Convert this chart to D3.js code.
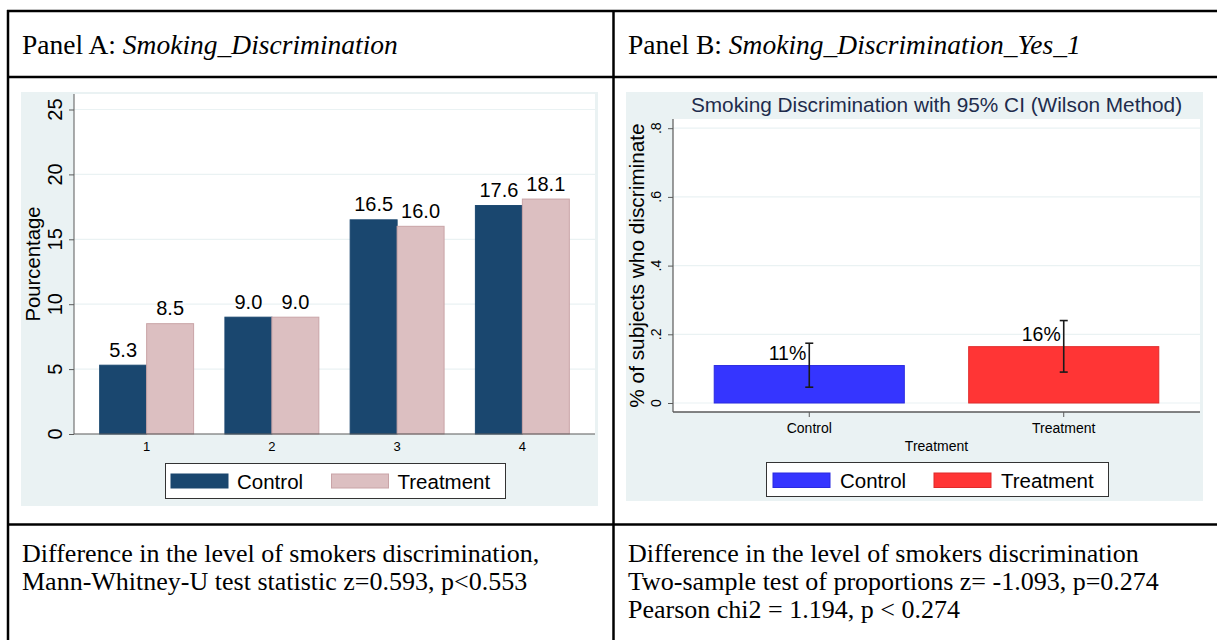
<!DOCTYPE html>
<html>
<head>
<meta charset="utf-8">
<script src="https://cdn.jsdelivr.net/npm/d3@7"></script>
<style>
  html, body { margin: 0; padding: 0; background: #ffffff; }
  svg { display: block; }
</style>
</head>
<body>
<svg id="page" width="1217" height="640"></svg>
<script>
// ---- Panel A data: discrimination level by group ----
const levels = ["1", "2", "3", "4"];
const groups = ["Control", "Treatment"];
const controlPct = [5.3, 9.0, 16.5, 17.6];
const treatmentPct = [8.5, 9.0, 16.0, 18.1];
const pctTicks = [0, 5, 10, 15, 20, 25];

// ---- Panel B data: share who discriminate, Wilson 95% CI ----
const arms = ["Control", "Treatment"];
const shareYes = [0.109, 0.164];
const ciLow = [0.046, 0.090];
const ciHigh = [0.174, 0.240];
const shareTicks = [0, 0.2, 0.4, 0.6, 0.8];

// ---- Table text ----
const headA = ["Panel A: ", "Smoking_Discrimination"];
const headB = ["Panel B: ", "Smoking_Discrimination_Yes_1"];
const noteA = ["Difference in the level of smokers discrimination,",
               "Mann-Whitney-U test statistic z=0.593, p<0.553"];
const noteB = ["Difference in the level of smokers discrimination",
               "Two-sample test of proportions z= -1.093, p=0.274",
               "Pearson chi2 = 1.194, p < 0.274"];

const svg = d3.select("#page");
const SANS = "'Liberation Sans', Arial, Helvetica, sans-serif";
const SERIF = "'Liberation Serif', 'Times New Roman', serif";
const GRAPH_BG = "#eaf2f3";
const GRID = "#eaf2f3";
const AXIS = "#5a5a5a";

// ================= table frame =================
const frame = svg.append("g").attr("stroke", "#000").attr("stroke-width", 2.5);
frame.append("line").attr("x1", 7).attr("x2", 1217).attr("y1", 11).attr("y2", 11);
frame.append("line").attr("x1", 7).attr("x2", 1217).attr("y1", 77).attr("y2", 77);
frame.append("line").attr("x1", 7).attr("x2", 1217).attr("y1", 524.5).attr("y2", 524.5);
frame.append("line").attr("x1", 8).attr("x2", 8).attr("y1", 10).attr("y2", 640);
frame.append("line").attr("x1", 613.5).attr("x2", 613.5).attr("y1", 10).attr("y2", 640);

function heading(x, parts) {
  const t = svg.append("text").attr("x", x).attr("y", 53.5)
    .attr("font-family", SERIF).attr("font-size", 27.5).attr("fill", "#000");
  t.append("tspan").text(parts[0]);
  t.append("tspan").attr("font-style", "italic").text(parts[1]);
}
heading(22, headA);
heading(628, headB);

function note(x, lines) {
  svg.append("g").selectAll("text").data(lines).join("text")
    .attr("x", x).attr("y", (d, i) => 561.5 + i * 28)
    .attr("font-family", SERIF).attr("font-size", 26).attr("fill", "#000")
    .text(d => d);
}
note(22, noteA);
note(628, noteB);

// ================= Panel A =================
{
  const g = svg.append("g");
  g.append("rect").attr("x", 21).attr("y", 92).attr("width", 577).attr("height", 414).attr("fill", GRAPH_BG);
  const L = 74, R = 595, T = 94, B = 434;
  g.append("rect").attr("x", L).attr("y", T).attr("width", R - L).attr("height", B - T).attr("fill", "#fff");

  const y = d3.scaleLinear().domain([0, 25]).range([B, B - 25 * 12.98]);
  const x0 = d3.scaleBand().domain(levels).range([L, R]).paddingInner(0.25).paddingOuter(0.205);
  const x1 = d3.scaleBand().domain(groups).range([0, x0.bandwidth()]);
  const color = d3.scaleOrdinal().domain(groups).range(["#1a476f", "#dcbfc1"]);
  const edge = d3.scaleOrdinal().domain(groups).range(["#1a476f", "#c9a4a7"]);

  // horizontal grid
  g.append("g").selectAll("line").data(pctTicks.filter(v => v > 0)).join("line")
    .attr("x1", L).attr("x2", R).attr("y1", d => y(d)).attr("y2", d => y(d))
    .attr("stroke", GRID).attr("stroke-width", 1.2);

  const rows = levels.map((lv, i) => ({ lv, vals: [controlPct[i], treatmentPct[i]] }));
  const grp = g.append("g").selectAll("g").data(rows).join("g")
    .attr("transform", d => `translate(${x0(d.lv)},0)`);
  grp.selectAll("rect").data(d => d.vals.map((v, j) => ({ key: groups[j], v }))).join("rect")
    .attr("x", d => x1(d.key)).attr("width", x1.bandwidth())
    .attr("y", d => y(d.v)).attr("height", d => B - y(d.v))
    .attr("fill", d => color(d.key)).attr("stroke", d => edge(d.key)).attr("stroke-width", 1);
  grp.selectAll("text").data(d => d.vals.map((v, j) => ({ key: groups[j], v }))).join("text")
    .attr("x", d => x1(d.key) + x1.bandwidth() / 2).attr("y", d => y(d.v) - 8.5)
    .attr("text-anchor", "middle").attr("font-family", SANS).attr("font-size", 20).attr("fill", "#000")
    .text(d => d3.format(".1f")(d.v));

  // y axis
  const ya = g.append("g").attr("transform", `translate(${L},0)`)
    .call(d3.axisLeft(y).tickValues(pctTicks).tickSize(5).tickFormat(""));
  ya.select(".domain").attr("d", `M0,${B}V${T}`).attr("stroke", AXIS);
  ya.selectAll(".tick line").attr("stroke", AXIS);
  g.append("g").selectAll("text").data(pctTicks).join("text")
    .attr("transform", d => `translate(62,${y(d)}) rotate(-90)`)
    .attr("text-anchor", "middle").attr("font-family", SANS).attr("font-size", 20).attr("fill", "#000")
    .text(d => d);
  g.append("text").attr("transform", `translate(39.5,264) rotate(-90)`)
    .attr("text-anchor", "middle").attr("font-family", SANS).attr("font-size", 20.3).attr("fill", "#000")
    .text("Pourcentage");

  // x axis
  const xa = g.append("g").attr("transform", `translate(0,${B})`)
    .call(d3.axisBottom(x0).tickSize(0).tickPadding(8));
  xa.select(".domain").attr("d", `M${L},0H${R}`).attr("stroke", AXIS).attr("stroke-width", 1.2);
  xa.selectAll(".tick text").attr("font-family", SANS).attr("font-size", 13).attr("fill", "#000")
    .attr("dy", "0.71em");

  // legend
  const lg = g.append("g");
  lg.append("rect").attr("x", 165.5).attr("y", 463.5).attr("width", 340).attr("height", 35)
    .attr("fill", "#fff").attr("stroke", "#333").attr("stroke-width", 1);
  const items = lg.selectAll("g").data(groups).join("g")
    .attr("transform", (d, i) => `translate(${171 + i * 160.5},0)`);
  items.append("rect").attr("x", 0).attr("y", 474).attr("width", 57).attr("height", 14)
    .attr("fill", d => color(d)).attr("stroke", d => edge(d));
  items.append("text").attr("x", 66).attr("y", 488.5)
    .attr("font-family", SANS).attr("font-size", 20.5).attr("fill", "#000").text(d => d);
}

// ================= Panel B =================
{
  const g = svg.append("g");
  g.append("rect").attr("x", 626).attr("y", 92).attr("width", 577).attr("height", 409).attr("fill", GRAPH_BG);
  const L = 673, R = 1200, T = 119, B = 412;
  g.append("rect").attr("x", L).attr("y", T).attr("width", R - L).attr("height", B - T).attr("fill", "#fff");

  const y0 = 403;
  const y = d3.scaleLinear().domain([0, 0.8]).range([y0, y0 - 0.8 * 343.5]);
  const x = d3.scaleBand().domain(arms).range([L, R]).paddingInner(0.253).paddingOuter(0.162);
  const color = d3.scaleOrdinal().domain(arms).range(["#3535ff", "#ff3535"]);
  const edge = d3.scaleOrdinal().domain(arms).range(["#2a2ae0", "#e02a2a"]);

  g.append("g").selectAll("line").data(shareTicks).join("line")
    .attr("x1", L).attr("x2", R).attr("y1", d => y(d)).attr("y2", d => y(d))
    .attr("stroke", GRID).attr("stroke-width", 1.2);

  g.append("text").attr("x", (L + R) / 2).attr("y", 111.5).attr("text-anchor", "middle")
    .attr("font-family", SANS).attr("font-size", 20.8).attr("fill", "#1e2c4c")
    .text("Smoking Discrimination with 95% CI (Wilson Method)");

  const rows = arms.map((a, i) => ({ a, v: shareYes[i], lo: ciLow[i], hi: ciHigh[i] }));
  g.append("g").selectAll("rect").data(rows).join("rect")
    .attr("x", d => x(d.a)).attr("width", x.bandwidth())
    .attr("y", d => y(d.v)).attr("height", d => y0 - y(d.v))
    .attr("fill", d => color(d.a)).attr("stroke", d => edge(d.a)).attr("stroke-width", 1);

  const cx = d => x(d.a) + x.bandwidth() / 2;
  const eb = g.append("g").attr("stroke", "#1a1a1a").attr("stroke-width", 1.6);
  eb.selectAll(".v").data(rows).join("line").attr("class", "v")
    .attr("x1", cx).attr("x2", cx).attr("y1", d => y(d.lo)).attr("y2", d => y(d.hi));
  eb.selectAll(".h").data(rows).join("line").attr("class", "h")
    .attr("x1", d => cx(d) - 4).attr("x2", d => cx(d) + 4).attr("y1", d => y(d.hi)).attr("y2", d => y(d.hi));
  eb.selectAll(".l").data(rows).join("line").attr("class", "l")
    .attr("x1", d => cx(d) - 4).attr("x2", d => cx(d) + 4).attr("y1", d => y(d.lo)).attr("y2", d => y(d.lo));

  g.append("g").selectAll("text").data(rows).join("text")
    .attr("x", d => cx(d) - 3).attr("y", d => y(d.v) - 6)
    .attr("text-anchor", "end").attr("font-family", SANS).attr("font-size", 19.5).attr("fill", "#000")
    .text(d => d3.format(".0%")(d.v));

  // y axis
  const ya = g.append("g").attr("transform", `translate(${L},0)`)
    .call(d3.axisLeft(y).tickValues(shareTicks).tickSize(5).tickFormat(""));
  ya.select(".domain").attr("d", `M0,${B}V${T}`).attr("stroke", AXIS).attr("stroke-width", 1.2);
  ya.selectAll(".tick line").attr("stroke", AXIS);
  g.append("g").selectAll("text").data(shareTicks).join("text")
    .attr("transform", d => `translate(661,${y(d)}) rotate(-90)`)
    .attr("text-anchor", "middle").attr("font-family", SANS).attr("font-size", 14).attr("fill", "#000")
    .text(d => d === 0 ? "0" : d3.format(".1f")(d).replace(/^0/, ""));
  g.append("text").attr("transform", `translate(644,265.5) rotate(-90)`)
    .attr("text-anchor", "middle").attr("font-family", SANS).attr("font-size", 20.8).attr("fill", "#000")
    .text("% of subjects who discriminate");

  // x axis
  const xa = g.append("g").attr("transform", `translate(0,${B})`)
    .call(d3.axisBottom(x).tickSize(5).tickPadding(6));
  xa.select(".domain").attr("d", `M${L},0H${R}`).attr("stroke", AXIS).attr("stroke-width", 1.5);
  xa.selectAll(".tick line").attr("stroke", AXIS);
  xa.selectAll(".tick text").attr("font-family", SANS).attr("font-size", 14).attr("fill", "#000");
  g.append("text").attr("x", (L + R) / 2).attr("y", 451).attr("text-anchor", "middle")
    .attr("font-family", SANS).attr("font-size", 14).attr("fill", "#000").text("Treatment");

  // legend
  const lg = g.append("g");
  lg.append("rect").attr("x", 766.5).attr("y", 462.5).attr("width", 342).attr("height", 34)
    .attr("fill", "#fff").attr("stroke", "#333").attr("stroke-width", 1);
  const items = lg.selectAll("g").data(arms).join("g")
    .attr("transform", (d, i) => `translate(${773 + i * 161},0)`);
  items.append("rect").attr("x", 0).attr("y", 473).attr("width", 57).attr("height", 14.5)
    .attr("fill", d => color(d)).attr("stroke", d => edge(d));
  items.append("text").attr("x", 67).attr("y", 487.5)
    .attr("font-family", SANS).attr("font-size", 20.5).attr("fill", "#000").text(d => d);
}
</script>
</body>
</html>
